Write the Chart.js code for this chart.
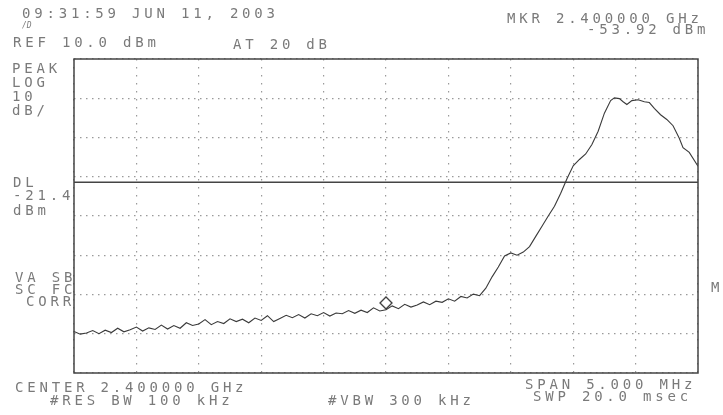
<!DOCTYPE html>
<html>
<head>
<meta charset="utf-8">
<script src="https://cdn.jsdelivr.net/npm/chart.js@4/dist/chart.umd.min.js"></script>
<style>
  html, body { margin: 0; padding: 0; background: #fff; }
  canvas { display: block; }
</style>
</head>
<body>
<canvas id="sa" width="723" height="415"></canvas>
<script>
// Sweep trace (MHz / dBm)
const freqMHz = [
  2397.50, 2397.55, 2397.60, 2397.65, 2397.70, 2397.75, 2397.80, 2397.85, 2397.90, 2397.95,
  2398.00, 2398.05, 2398.10, 2398.15, 2398.20, 2398.25, 2398.30, 2398.35, 2398.40, 2398.45,
  2398.50, 2398.55, 2398.60, 2398.65, 2398.70, 2398.75, 2398.80, 2398.85, 2398.90, 2398.95,
  2399.00, 2399.05, 2399.10, 2399.15, 2399.20, 2399.25, 2399.30, 2399.35, 2399.40, 2399.45,
  2399.50, 2399.55, 2399.60, 2399.65, 2399.70, 2399.75, 2399.80, 2399.85, 2399.90, 2399.95,
  2400.00, 2400.05, 2400.10, 2400.15, 2400.20, 2400.25, 2400.30, 2400.35, 2400.40, 2400.45,
  2400.50, 2400.55, 2400.60, 2400.65, 2400.70, 2400.75, 2400.80,
  2400.85, 2400.90, 2400.95, 2401.00, 2401.05, 2401.10, 2401.15, 2401.20, 2401.25, 2401.30,
  2401.35, 2401.40, 2401.45, 2401.50, 2401.55, 2401.60, 2401.65, 2401.70, 2401.75, 2401.80,
  2401.83, 2401.87, 2401.90, 2401.93, 2401.97, 2402.02, 2402.07, 2402.11, 2402.15, 2402.20,
  2402.25, 2402.30, 2402.35, 2402.38, 2402.43, 2402.50,
];
const levelDbm = [
  -59.4, -60.1, -59.8, -59.2, -60.0, -59.1, -59.7, -58.6, -59.5, -59.0,
  -58.3, -59.3, -58.5, -58.9, -57.8, -58.8, -57.9, -58.6, -57.2, -57.9,
  -57.5, -56.4, -57.7, -56.9, -57.4, -56.2, -56.9, -56.3, -57.2, -56.0,
  -56.6, -55.4, -56.9, -56.1, -55.3, -55.9, -55.1, -56.0, -54.9, -55.4,
  -54.6, -55.5, -54.7, -54.9, -54.1, -54.8, -54.0, -54.6, -53.4, -54.2,
  -53.9, -52.9, -53.6, -52.5, -53.2, -52.7, -51.9, -52.6, -51.7, -52.0,
  -51.1, -51.7, -50.5, -50.9, -49.9, -50.3, -48.4,
  -45.5, -43.0, -40.2, -39.4, -40.0, -39.2, -37.8, -35.2, -32.6, -30.0,
  -27.5, -24.2, -20.5, -17.2, -15.6, -14.2, -11.8, -8.4, -3.8, -0.6,
  0.1, -0.1, -0.9, -1.6, -0.6, -0.4, -0.9, -1.1, -2.6, -4.2,
  -5.4, -7.0, -10.2, -12.6, -13.8, -17.3,
];

// Instrument settings
const startMHz = 2397.5;
const stopMHz = 2402.5;
const refLevel = 10;      // dBm, top of screen
const bottomLevel = -70;  // 8 div x 10 dB
const displayLine = -21.4;
const markerMHz = 2400.0;
const markerDbm = -53.92;

// Printer annotations (screen text)
const notes = [
  ["09:31:59 JUN 11, 2003", 22, 18],
  ["REF 10.0 dBm", 13, 47],
  ["AT 20 dB", 233, 49],
  ["MKR 2.400000 GHz", 507, 23],
  ["-53.92 dBm", 587, 34],
  ["PEAK", 12, 73],
  ["LOG", 12, 87],
  ["10", 12, 101],
  ["dB/", 12, 115],
  ["DL", 13, 187],
  ["-21.4", 13, 200],
  ["dBm", 13, 215],
  ["VA SB", 15, 282],
  ["SC FC", 15, 294],
  ["CORR", 26, 306],
  ["CENTER 2.400000 GHz", 15, 392],
  ["#RES BW 100 kHz", 50, 405],
  ["#VBW 300 kHz", 328, 405],
  ["SPAN 5.000 MHz", 525, 389],
  ["SWP 20.0 msec", 533, 401],
  ["M", 711, 292],
];

const INK = "#3a3a3a";
const TEXT = "#7a7a7a";

// diamond marker sitting just above the trace point
function diamondImage() {
  const c = document.createElement("canvas");
  c.width = 14; c.height = 28;
  const g = c.getContext("2d");
  g.strokeStyle = INK; g.lineWidth = 1.3; g.fillStyle = "#fff";
  g.beginPath();
  g.moveTo(7, 1); g.lineTo(13, 7); g.lineTo(7, 13); g.lineTo(1, 7); g.closePath();
  g.fill(); g.stroke();
  return c;
}

const framePlugin = {
  id: "frame",
  afterDatasetsDraw(chart) {
    const { ctx, chartArea: a } = chart;
    ctx.save();
    ctx.strokeStyle = "#444";
    ctx.lineWidth = 1.5;
    ctx.strokeRect(a.left, a.top, a.right - a.left, a.bottom - a.top);
    ctx.restore();
  },
};

const notesPlugin = {
  id: "notes",
  afterDraw(chart) {
    const ctx = chart.ctx;
    ctx.save();
    ctx.fillStyle = TEXT;
    ctx.font = '14px "DejaVu Sans Mono", monospace';
    ctx.letterSpacing = "3.8px";
    ctx.textBaseline = "alphabetic";
    notes.forEach(([t, x, y]) => ctx.fillText(t, x, y));
    // little pen glyph under the clock
    ctx.letterSpacing = "0px";
    ctx.font = 'italic 8px "DejaVu Sans Mono", monospace';
    ctx.fillText("/D", 22, 28);
    ctx.restore();
  },
};

const dotted = (dash) => ({
  grid: { color: "#9a9a9a", lineWidth: 1.2, drawTicks: false },
  border: { display: false, dash },
});

new Chart(document.getElementById("sa"), {
  type: "line",
  data: {
    datasets: [
      {
        label: "trace",
        data: freqMHz.map((f, i) => ({ x: f, y: levelDbm[i] })),
        borderColor: INK,
        borderWidth: 1.1,
        pointRadius: 0,
        tension: 0,
      },
      {
        label: "DL",
        data: [{ x: startMHz, y: displayLine }, { x: stopMHz, y: displayLine }],
        borderColor: "#444",
        borderWidth: 1.5,
        pointRadius: 0,
      },
      {
        label: "MKR",
        type: "scatter",
        data: [{ x: markerMHz, y: markerDbm }],
        pointStyle: diamondImage(),
        pointRadius: 7,
      },
    ],
  },
  options: {
    responsive: false,
    animation: false,
    events: [],
    layout: { padding: { left: 74, top: 59, right: 25, bottom: 42 } },
    plugins: { legend: { display: false }, tooltip: { enabled: false } },
    scales: {
      x: { type: "linear", min: startMHz, max: stopMHz, ...dotted([1.5, 6.5]),
           ticks: { display: false, stepSize: 0.5 } },
      y: { type: "linear", min: bottomLevel, max: refLevel, ...dotted([1.5, 4.5]),
           ticks: { display: false, stepSize: 10 } },
    },
  },
  plugins: [framePlugin, notesPlugin],
});
</script>
</body>
</html>
